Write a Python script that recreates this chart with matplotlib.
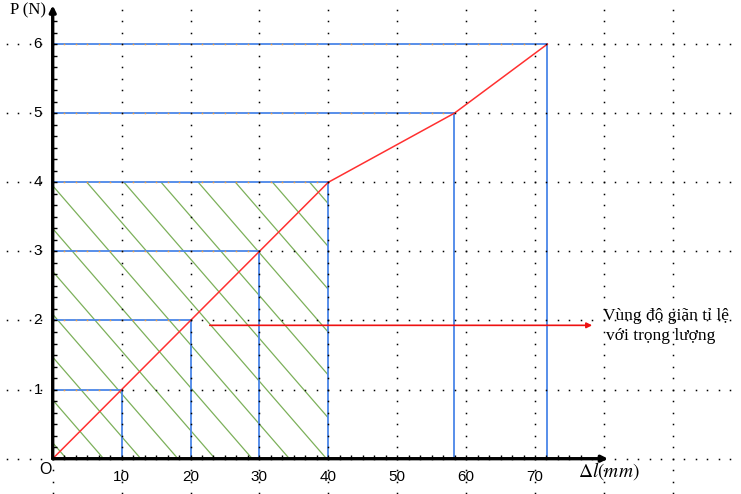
import numpy as np
import matplotlib
matplotlib.use("Agg")
import matplotlib.pyplot as plt
from matplotlib.patches import Rectangle

# ---- data ----
elong_mm = [0, 10, 20, 30, 40, 58.3, 71.8]
force_n = [0, 1, 2, 3, 4, 5, 6]
x_ticks = [10, 20, 30, 40, 50, 60, 70]
y_ticks = [1, 2, 3, 4, 5, 6]
prop_limit_x = 40
prop_limit_y = 4
arrow_y = 1.93
arrow_x0, arrow_x1 = 22.8, 78.3
note_lines = ["Vùng độ giãn tỉ lệ", "với trọng lượng"]

plt.rcParams['mathtext.fontset'] = 'stix'

fig = plt.figure(figsize=(7.41, 4.94), dpi=100)
ax = fig.add_axes([0, 0, 1, 1])
ax.set_xlim(-7.65, 99.9)
ax.set_ylim(-0.511, 6.638)
ax.axis('off')

BLUE = '#4a86e8'
RED = '#ff3030'
GREEN = '#7cb05a'

# hatched region (proportional zone)
rect = Rectangle((0, 0), prop_limit_x, prop_limit_y, facecolor='none', edgecolor='none')
ax.add_patch(rect)
slope = 0.115
cs = np.arange(0.85 - 0.62 * 2, prop_limit_y + slope * prop_limit_x + 0.7, 0.62)
xx = np.array([0, prop_limit_x])
for c in cs:
    ln, = ax.plot(xx, c - slope * xx, color=GREEN, lw=0.9, zorder=2)
    ln.set_clip_path(rect)

# blue guide lines
for xv, yv in zip(elong_mm[1:], force_n[1:]):
    ax.plot([0, xv], [yv, yv], color=BLUE, lw=1.3, zorder=3)
    ax.plot([xv, xv], [0, yv], color=BLUE, lw=1.3, zorder=3)

# red curve
ax.plot(elong_mm, force_n, color=RED, lw=1.1, zorder=4)

# dotted grid
step_x = 10 / 6
row_x = np.arange(-4 * step_x, 100, step_x)
for yv in range(0, 7):
    lim = elong_mm[yv] if yv < len(elong_mm) else 0
    cols = np.where((row_x > 0.5) & (row_x < lim - 0.5), '#f0a040', 'black')
    for colr in ['black', '#f0a040']:
        m = cols == colr
        ax.plot(row_x[m], np.full(m.sum(), yv), ls='none', marker='s', ms=1.1,
                mew=0, color=colr, zorder=5)
col_y = np.arange(-3 / 6, 6.7, 1 / 6)
for xv in range(0, 100, 10):
    ax.plot(np.full(len(col_y), xv), col_y, ls='none', marker='s', ms=1.1,
            mew=0, color='black', zorder=5)

# axes with arrows
ax.annotate('', xy=(80.6, 0), xytext=(0, 0),
            arrowprops=dict(arrowstyle='-|>', lw=2.4, color='black',
                            mutation_scale=9, shrinkA=0, shrinkB=0), zorder=6)
ax.annotate('', xy=(0, 6.56), xytext=(0, 0),
            arrowprops=dict(arrowstyle='-|>', lw=2.4, color='black',
                            mutation_scale=9, shrinkA=0, shrinkB=0), zorder=6)
# small ticks on axes
ty = np.arange(1 / 6, 6.4, 1 / 6)
ax.plot(np.full(len(ty), 0.3), ty, ls='none', marker='_', ms=3, mew=1, color='black', zorder=6)
tx = np.arange(step_x, 78, step_x)
ax.plot(tx, np.full(len(tx), 0.03), ls='none', marker='|', ms=3, mew=1, color='black', zorder=6)

# red pointer arrow
ax.annotate('', xy=(arrow_x1, arrow_y), xytext=(arrow_x0, arrow_y),
            arrowprops=dict(arrowstyle='-|>', lw=1.2, color='#ee1111',
                            mutation_scale=8, shrinkA=0, shrinkB=0), zorder=6)

# tick labels
for xv in x_ticks:
    ax.text(xv, -0.265, str(xv), ha='center', va='center',
            family='Liberation Sans', fontsize=11, zorder=7)
for yv in y_ticks:
    ax.text(-1.55, yv, str(yv), ha='right', va='center',
            family='Liberation Sans', fontsize=11, zorder=7)
ax.text(-1.0, -0.155, 'O', ha='center', va='center',
        family='Liberation Sans', fontsize=11.5, zorder=7)
ax.text(-6.2, 6.49, 'P (N)', ha='left', va='center',
        family='Liberation Serif', fontsize=12, zorder=7)
ax.text(76.3, -0.178, r'$\Delta l(mm)$', ha='left', va='center', fontsize=14, zorder=7)

ax.text(79.9, 2.0, note_lines[0], ha='left', va='baseline',
        family=['Liberation Serif', 'DejaVu Serif'], fontsize=12.5, zorder=7)
ax.text(80.3, 1.715, note_lines[1], ha='left', va='baseline',
        family=['Liberation Serif', 'DejaVu Serif'], fontsize=12.5, zorder=7)

fig.savefig('out.png', dpi=100)
